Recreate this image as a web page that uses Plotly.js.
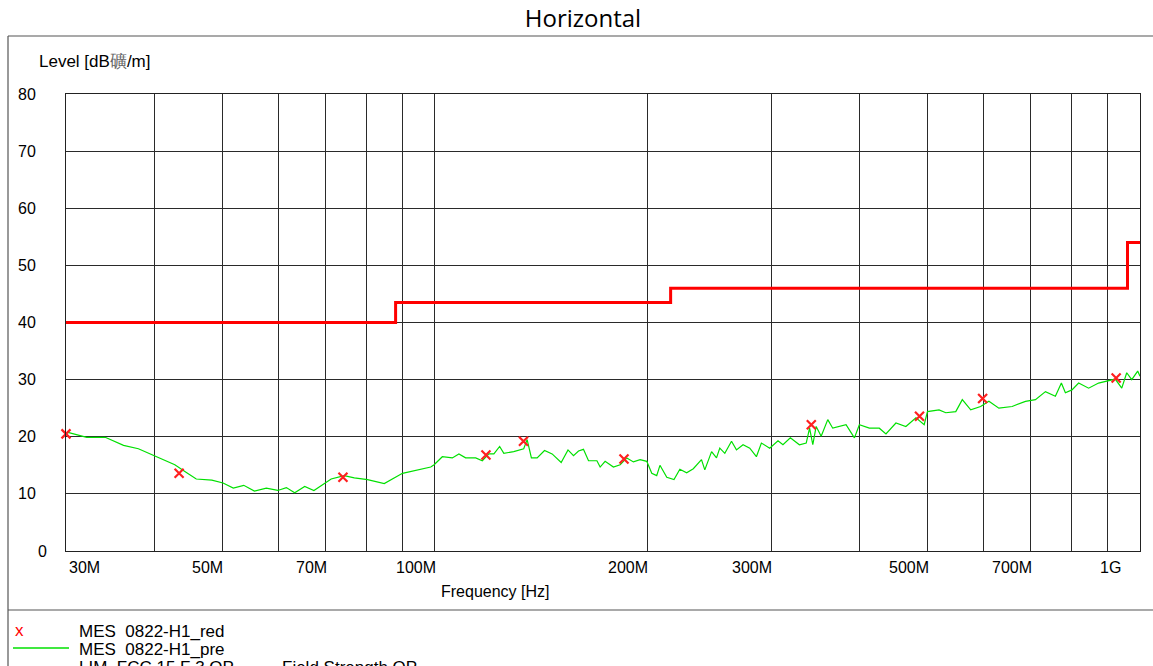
<!DOCTYPE html>
<html>
<head>
<meta charset="utf-8">
<script src="https://cdn.plot.ly/plotly-3.0.1.min.js"></script>
<style>
html,body{margin:0;padding:0;background:#fff;}
#chart{width:1153px;height:666px;}
</style>
</head>
<body>
<div id="chart"></div>
<script>
// ---- data (frequencies in MHz, levels in dBµV/m) ----
var preFreq = [30.1,32.1,34.1,36.2,38.0,40.3,42.8,44.5,45.9,48.3,50.1,51.8,53.6,55.5,57.7,59.9,61.6,63.3,65.4,67.4,69.0,71.3,74.4,76.9,80.3,84.8,90.0,94.5,96.1,98.7,
  99.8,102.5,105.9,108.2,110.6,114.3,116.8,119.3,121.3,123.6,125.3,129.4,133.7,135.2,137.1,139.7,143.1,146.7,151.1,154.5,157.3,159.9,162.5,165.2,169.8,171.6,174.4,179.2,183.2,187.2,191.3,195.5,199.8,
  203.1,206.4,208.6,213.3,218.4,222.6,227.6,232.6,238.9,241.5,246.9,250.9,253.6,257.8,263.5,267.8,273.6,279.7,285.8,290.5,298.5,306.7,311.7,319.3,328.9,
  336.3,340.0,343.6,347.4,353.1,360.8,366.7,374.8,383.0,393.6,400.0,413.3,426.9,436.3,450.7,465.6,481.2,494.3,499.6,518.9,530.4,548.0,559.8,575.4,594.3,610.6,630.8,658.7,688.0,710.8,734.4,758.6,773.6,783.8,800.8,818.4,845.6,873.5,897.4,922.3,942.2,957.6,973.4,992.5,1000];
var preLevel = [20.8,19.9,19.9,18.5,17.9,16.5,15.1,13.7,12.6,12.4,11.9,11.0,11.5,10.5,11.0,10.6,11.1,10.2,11.3,10.6,11.4,12.6,13.2,12.8,12.5,11.8,13.6,14.2,14.3,14.7,
  15.1,16.5,16.3,17.0,16.3,16.3,15.8,17.0,17.0,18.3,17.1,17.4,17.9,19.5,16.3,16.3,17.6,17.0,15.5,17.7,16.7,17.5,17.8,15.8,15.8,14.7,15.7,14.7,15.1,16.3,15.6,16.0,15.7,
  13.6,13.2,15.0,12.9,12.5,14.3,13.7,14.4,16.0,14.2,17.4,16.3,18.0,17.1,19.2,17.7,18.6,18.0,16.5,18.9,18.0,19.3,18.6,19.8,18.6,
  18.9,21.5,18.6,21.8,20.1,23.0,21.5,21.8,22.1,19.8,22.1,21.5,21.5,20.5,22.4,21.8,23.3,22.1,24.4,24.7,24.2,24.4,26.5,24.7,25.3,26.2,25.0,25.3,26.2,26.5,27.9,27.1,29.4,27.7,28.2,29.4,28.5,29.4,29.7,30.1,28.5,31.2,30.0,31.5,30.6];

var redFreq  = [30.0, 43.4, 74.1, 118.2, 133.6, 185.5, 341.9, 486.8, 598.2, 925.1];
var redLevel = [20.5, 13.6, 12.9, 16.8, 19.2, 16.1, 22.1, 23.6, 26.7, 30.3];

var limFreq  = [30, 88, 216, 960, 1000];
var limLevel = [40, 43.5, 46, 54, 54];

var gridFreqs = [30,40,50,60,70,80,90,100,200,300,400,500,600,700,800,900,1000];
var xLabelFreqs = [30, 50, 70, 100, 200, 300, 500, 700, 1000];
var xLabelTexts = ['30M','50M','70M','100M','200M','300M','500M','700M','1G'];
var yTickVals = [0,10,20,30,40,50,60,70,80];
var yTickText = ['0','10','20','30','40','50','60','70','80'];

var titleText = 'Horizontal';
var yTitle = 'Level [dB<span style="color:#666">礦</span>/m]';
var xTitle = 'Frequency [Hz]';
var legendNames = ['MES\u00A0\u00A00822-H1_red', 'MES\u00A0\u00A00822-H1_pre', 'LIM\u00A0\u00A0FCC 15 F 3 QP', 'Field Strength QP'];

// ---- geometry helpers (pixel -> paper) ----
var L = 66, R = 1140, T = 94, B = 551;
function px(x){ return (x - L) / (R - L); }
function py(y){ return (B - y) / (B - T); }
var font = 'Arial, "Liberation Sans", sans-serif';

var traces = [
  {x: limFreq, y: limLevel, mode: 'lines', line: {color: '#ff0000', width: 3, shape: 'hv'}, hoverinfo: 'skip'},
  {x: preFreq, y: preLevel, mode: 'lines', line: {color: '#00e000', width: 1.2}, hoverinfo: 'skip'},
  {x: redFreq, y: redLevel, mode: 'markers', cliponaxis: false,
   marker: {symbol: 'x-thin', size: 9, color: '#ff2020', line: {color: '#ff2020', width: 2.2}}, hoverinfo: 'skip'}
];

var annotations = [];
xLabelFreqs.forEach(function(f, i){
  var anch = 'right', sh = 3;
  if (i === 0) { anch = 'left'; sh = 1; }
  if (i === xLabelFreqs.length - 1) { sh = -17; }
  annotations.push({x: Math.log10(f), xref: 'x', y: py(567), yref: 'paper', text: xLabelTexts[i],
    showarrow: false, xanchor: anch, yanchor: 'middle', xshift: sh, font: {family: font, size: 16, color: '#000'}});
});
yTickVals.forEach(function(v, i){
  var xr = (v === 0) ? 49 : 38;
  annotations.push({x: px(xr), xref: 'paper', y: v, yref: 'y', text: yTickText[i], showarrow: false,
    xanchor: 'right', yanchor: 'middle', font: {family: font, size: 16, color: '#000'}});
});
annotations.push({x: px(37), xref: 'paper', y: py(62), yref: 'paper', text: yTitle, showarrow: false,
  xanchor: 'left', yanchor: 'middle', font: {family: font, size: 17, color: '#000'}});
annotations.push({x: px(495), xref: 'paper', y: py(591), yref: 'paper', text: xTitle, showarrow: false,
  xanchor: 'center', yanchor: 'middle', font: {family: font, size: 16, color: '#000'}});
// legend block
annotations.push({x: px(19), xref: 'paper', y: py(630), yref: 'paper', text: 'x', showarrow: false,
  xanchor: 'center', yanchor: 'middle', font: {family: font, size: 17, color: '#ff0000'}});
annotations.push({x: px(77), xref: 'paper', y: py(631), yref: 'paper', text: legendNames[0], showarrow: false,
  xanchor: 'left', yanchor: 'middle', font: {family: font, size: 17, color: '#000'}});
annotations.push({x: px(77), xref: 'paper', y: py(649), yref: 'paper', text: legendNames[1], showarrow: false,
  xanchor: 'left', yanchor: 'middle', font: {family: font, size: 17, color: '#000'}});
annotations.push({x: px(77), xref: 'paper', y: py(667), yref: 'paper', text: legendNames[2], showarrow: false,
  xanchor: 'left', yanchor: 'middle', font: {family: font, size: 17, color: '#000'}});
annotations.push({x: px(280), xref: 'paper', y: py(667), yref: 'paper', text: legendNames[3], showarrow: false,
  xanchor: 'left', yanchor: 'middle', font: {family: font, size: 17, color: '#000'}});

var frameColor = '#555';
var shapes = [
  {type: 'line', xref: 'paper', yref: 'paper', x0: px(8), x1: px(1160), y0: py(36), y1: py(36), line: {color: frameColor, width: 1.2}},
  {type: 'line', xref: 'paper', yref: 'paper', x0: px(8), x1: px(8), y0: py(36), y1: py(700), line: {color: frameColor, width: 1.2}},
  {type: 'line', xref: 'paper', yref: 'paper', x0: px(8), x1: px(1160), y0: py(610), y1: py(610), line: {color: frameColor, width: 1.2}},
  {type: 'line', xref: 'paper', yref: 'paper', x0: px(13), x1: px(69), y0: py(648), y1: py(648), line: {color: '#00e000', width: 1.3}}
];

var layout = {
  width: 1153, height: 666,
  margin: {l: L, r: 1153 - R, t: T, b: 666 - B, pad: 0},
  paper_bgcolor: '#fff', plot_bgcolor: '#fff',
  showlegend: false,
  title: {text: titleText, font: {family: '"Open Sans", "Noto Sans", sans-serif', size: 24, color: '#000'},
          x: 583 / 1153, xanchor: 'center', xref: 'container', y: 1 - 19 / 666, yanchor: 'middle', yref: 'container'},
  xaxis: {type: 'log', range: [Math.log10(30), Math.log10(1000)], tickmode: 'array', tickvals: gridFreqs,
          showticklabels: false, ticks: '', showgrid: true, gridcolor: '#2a2a2a', gridwidth: 1,
          showline: true, mirror: true, linecolor: '#222', linewidth: 1, zeroline: false, fixedrange: true},
  yaxis: {range: [0, 80], tickmode: 'array', tickvals: yTickVals, showticklabels: false, ticks: '',
          showgrid: true, gridcolor: '#2a2a2a', gridwidth: 1, showline: true, mirror: true,
          linecolor: '#222', linewidth: 1, zeroline: false, fixedrange: true},
  annotations: annotations,
  shapes: shapes
};

Plotly.newPlot('chart', traces, layout, {displayModeBar: false, staticPlot: true});
</script>
</body>
</html>
